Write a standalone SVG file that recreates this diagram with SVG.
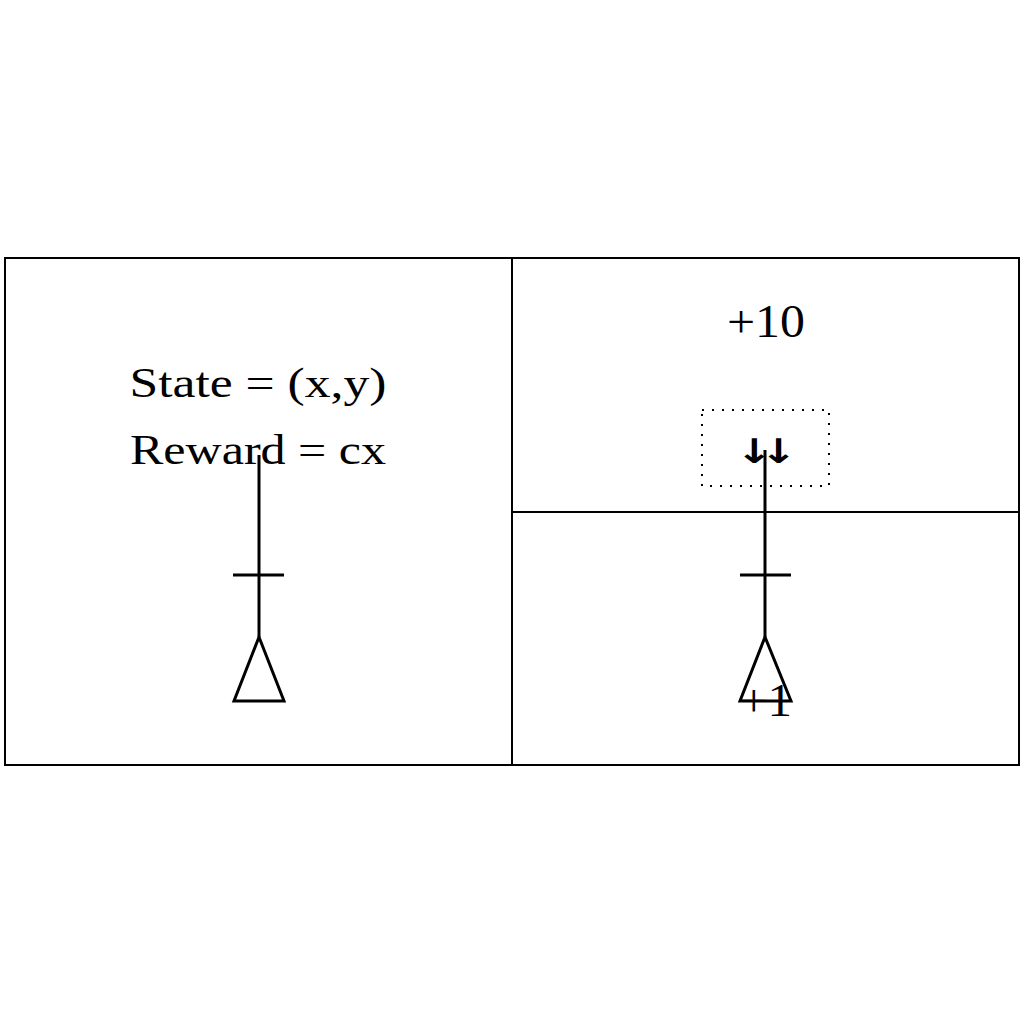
<svg xmlns="http://www.w3.org/2000/svg" width="1024" height="1024" viewBox="0 0 1024 1024">
<style>
.grid{fill:none;stroke:#000;stroke-width:2}
.fig{fill:none;stroke:#000;stroke-width:3}
.t{font-family:"Liberation Serif","DejaVu Serif",serif;font-size:42px;fill:#000;text-anchor:middle}
.n{font-size:46px}
.dot{fill:none;stroke:#000;stroke-width:2;stroke-dasharray:2 8}
.arr{font-family:"DejaVu Sans",sans-serif;font-size:34px;font-weight:bold;fill:#000;letter-spacing:-10px}
</style>
<rect width="1024" height="1024" fill="#fff"/>
<g id="grid">
<rect class="grid" x="5" y="258" width="1014" height="507"/>
<line class="grid" x1="512" y1="258" x2="512" y2="765"/>
<line class="grid" x1="512" y1="512" x2="1019" y2="512"/>
</g>
<g id="left-cell">
<text class="t" x="258" y="397" textLength="257" lengthAdjust="spacingAndGlyphs">State = (x,y)</text>
<text class="t" x="258" y="464" textLength="256" lengthAdjust="spacingAndGlyphs">Reward = cx</text>
</g>
<g id="left-figure">
<line class="fig" x1="259" y1="455" x2="259" y2="637"/>
<line class="fig" x1="233" y1="575" x2="284" y2="575"/>
<polygon class="fig" points="259,637 234,701 284,701"/>
</g>
<g id="top-right-cell">
<text class="t n" x="766" y="337" textLength="78" lengthAdjust="spacingAndGlyphs">+10</text>
<rect class="dot" x="702" y="410" width="127" height="76"/>
<text class="arr" transform="translate(766,463) scale(1.3,1)" x="-23">↓↓</text>
</g>
<g id="right-figure">
<line class="fig" x1="765" y1="450" x2="765" y2="637"/>
<line class="fig" x1="740" y1="575" x2="791" y2="575"/>
<polygon class="fig" points="765,637 740,701 791,701"/>
</g>
<g id="bottom-right-cell">
<text class="t n" x="766" y="716" textLength="52" lengthAdjust="spacingAndGlyphs">+1</text>
</g>
</svg>
